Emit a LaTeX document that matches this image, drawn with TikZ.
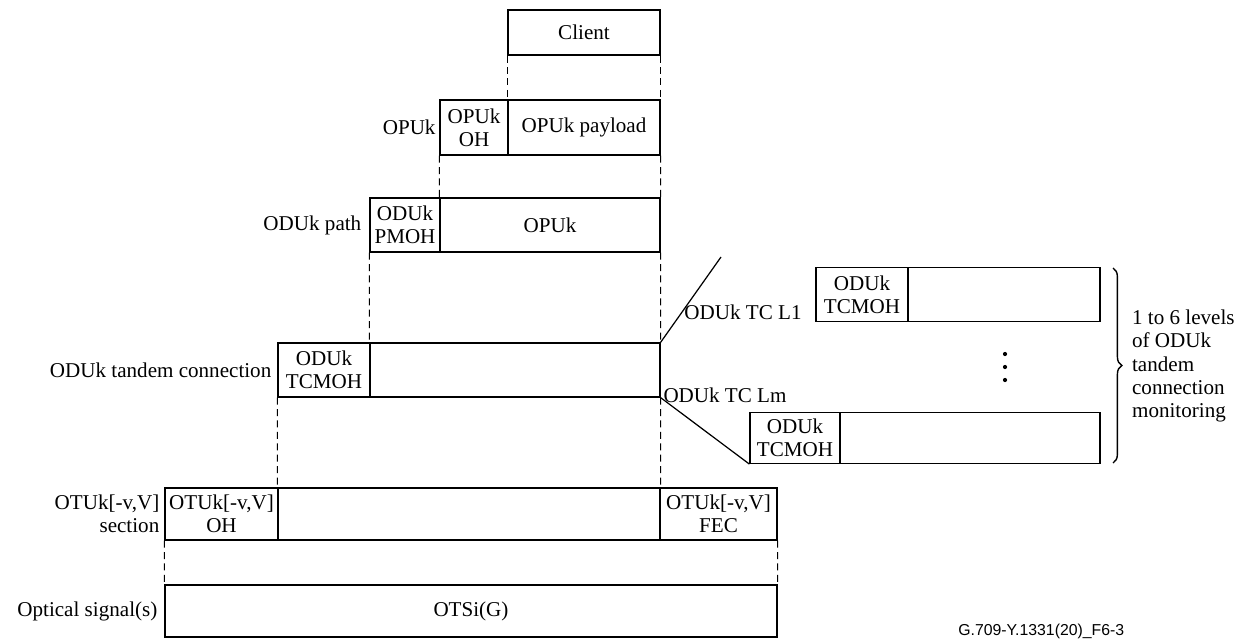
\documentclass[tikz,border=0pt]{standalone}
\usepackage{fontspec}
\setmainfont{Liberation Serif}
\newfontfamily\tagfont{Liberation Sans}
\usetikzlibrary{positioning,decorations.pathreplacing}

\begin{document}
\begin{tikzpicture}[
    x=0.02cm, y=-0.02cm,
    cell/.style={rectangle, draw, line width=0.7pt, inner sep=0pt, align=center, font=\fontsize{12}{13}\selectfont},
    lbl/.style={inner sep=1pt, align=right, font=\fontsize{12}{13}\selectfont},
    guide/.style={dash pattern=on 4pt off 2.5pt, line width=0.6pt},
    link/.style={line width=0.7pt}
]
\useasboundingbox (0,0) rectangle (1251,642);

% client and OPUk
\node[cell, minimum width=3.04cm, minimum height=0.9cm]  (client) at (584,32.5)  {Client};
\node[cell, minimum width=1.36cm, minimum height=1.1cm]  (opuoh)  at (474,127.5) {OPUk\\OH};
\node[cell, minimum width=3.04cm, minimum height=1.1cm]  (opupl)  at (584,127.5) {OPUk payload};
\node[lbl, left=1pt of opuoh] (opulbl) {OPUk};

% ODUk path
\node[cell, minimum width=1.4cm, minimum height=1.08cm]  (odupm)  at (405,225)   {ODUk\\PMOH};
\node[cell, minimum width=4.4cm, minimum height=1.08cm]  (odupl)  at (550,225)   {OPUk};
\node[lbl, left=0.12cm of odupm] (odulbl) {ODUk path};

% ODUk tandem connection
\node[cell, minimum width=1.84cm, minimum height=1.08cm] (tcoh)   at (324,370)   {ODUk\\TCMOH};
\node[cell, minimum width=5.8cm, minimum height=1.08cm]  (tcpl)   at (515,370)   {};
\node[lbl, left=0.08cm of tcoh] (tclbl) {ODUk tandem connection};

% OTUk section
\node[cell, minimum width=2.26cm, minimum height=1.04cm] (otuoh)  at (221.5,514) {OTUk[-v,V]\\OH};
\node[cell, minimum width=7.64cm, minimum height=1.04cm] (otupl)  at (469,514)   {};
\node[cell, minimum width=2.34cm, minimum height=1.04cm] (otufec) at (718.5,514) {OTUk[-v,V]\\FEC};
\node[lbl, left=0.06cm of otuoh] (otulbl) {OTUk[-v,V]\\section};

% optical signal
\node[cell, minimum width=12.24cm, minimum height=1.04cm] (otsi)  at (471,611)   {OTSi(G)};
\node[lbl, left=0.1cm of otsi] (otsilbl) {Optical signal(s)};

% TC levels
\node[cell, minimum width=1.84cm, minimum height=1.08cm] (l1oh)   at (862,294.5) {ODUk\\TCMOH};
\node[cell, minimum width=3.84cm, minimum height=1.08cm] (l1pl)   at (1004,294.5){};
\node[cell, minimum width=1.8cm, minimum height=1.02cm]  (lmoh)   at (795,438)   {ODUk\\TCMOH};
\node[cell, minimum width=5.2cm, minimum height=1.02cm]  (lmpl)   at (970,438)   {};
\node[lbl] (l1lbl) at (743,312) {ODUk TC L1};
\node[lbl] (lmlbl) at (725,395) {ODUk TC Lm};
\coordinate (l1end) at (721,257);
\foreach \dy in {354,367,380}
    \fill (1005,\dy) circle (1.2pt);

\coordinate (bt) at (1113,268);
\coordinate (bb) at (1113,463);
\draw[decorate, decoration={brace, amplitude=5pt}, line width=0.8pt] (bt) -- (bb);
\node[lbl, align=left, anchor=west, font=\fontsize{12}{13.3}\selectfont] (levels) at (1130,366)
    {1 to 6 levels\\of ODUk\\tandem\\connection\\monitoring};

% dashed guides
\draw[guide] (client.south west) -- (opupl.north west);
\draw[guide] (client.south east) -- (opupl.north east);
\draw[guide] (opuoh.south west) -- (odupl.north west);
\draw[guide] (opupl.south east) -- (odupl.north east);
\draw[guide] (odupm.south west) -- (tcpl.north west);
\draw[guide] (odupl.south east) -- (tcpl.north east);
\draw[guide] (tcoh.south west) -- (otupl.north west);
\draw[guide] (tcpl.south east) -- (otupl.north east);
\draw[guide] (otuoh.south west) -- (otsi.north west);
\draw[guide] (otufec.south east) -- (otsi.north east);

% expansion lines
\draw[link] (tcpl.north east) -- (l1end);
\draw[link] (tcpl.south east) -- (lmoh.south west);

\node[font=\tagfont\fontsize{9}{10}\selectfont, anchor=west, inner sep=0pt] (tag) at (958,631) {G.709-Y.1331(20)\_F6-3};
\end{tikzpicture}
\end{document}
